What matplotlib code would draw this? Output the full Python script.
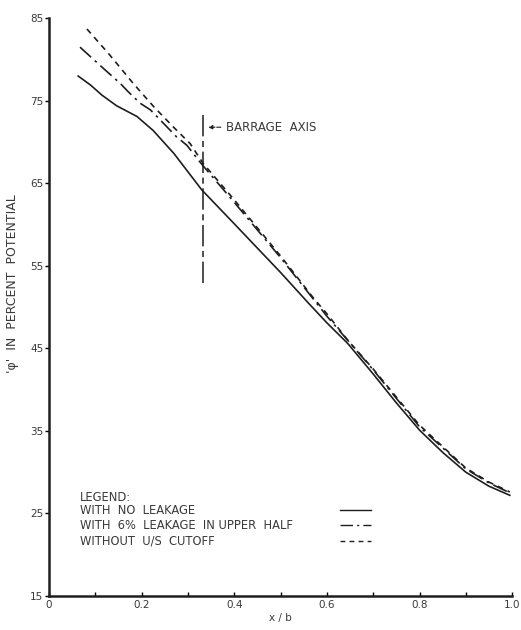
import numpy as np
import matplotlib
matplotlib.use("Agg")
import matplotlib.pyplot as plt
from matplotlib.lines import Line2D

x_no_leak = [0.063, 0.09, 0.114, 0.146, 0.19, 0.225, 0.27, 0.33, 0.40, 0.50, 0.56,
             0.60, 0.645, 0.70, 0.75, 0.80, 0.85, 0.90, 0.95, 0.995]
y_no_leak = [78.0, 76.9, 75.7, 74.4, 73.1, 71.4, 68.6, 64.2, 60.1, 54.2, 50.5,
             48.1, 45.6, 41.9, 38.4, 35.1, 32.4, 30.0, 28.3, 27.2]

x_leak6 = [0.067, 0.118, 0.154, 0.171, 0.197, 0.219, 0.233, 0.276, 0.298, 0.32,
           0.333, 0.40, 0.50, 0.60, 0.70, 0.80, 0.90, 0.95, 0.995]
y_leak6 = [81.5, 78.9, 77.1, 76.1, 74.7, 73.9, 73.1, 70.6, 69.6, 68.0,
           67.1, 62.7, 56.0, 48.9, 42.4, 35.5, 30.4, 28.7, 27.5]

x_no_cutoff = [0.082, 0.132, 0.182, 0.226, 0.269, 0.305, 0.333, 0.40, 0.50,
               0.571, 0.60, 0.645, 0.70, 0.80, 0.90, 0.95, 0.995]
y_no_cutoff = [83.7, 80.5, 77.1, 74.3, 71.8, 69.8, 67.4, 63.0, 56.2,
               51.1, 49.2, 46.0, 42.5, 35.7, 30.5, 28.8, 27.6]

series_labels = ["WITH  NO  LEAKAGE",
                 "WITH  6%  LEAKAGE  IN UPPER  HALF",
                 "WITHOUT  U/S  CUTOFF"]

barrage_x = 0.333
barrage_span = [52.9, 73.5]

x_ticks = [0, 0.2, 0.4, 0.6, 0.8, 1.0]
x_tick_labels = ["0", "0.2", "0.4", "0.6", "0.8", "1.0"]
y_ticks = [15, 25, 35, 45, 55, 65, 75, 85]

ink = "#1e1e1e"
text_ink = "#3a3a3a"

fig = plt.figure(figsize=(5.21, 6.30), dpi=100)
ax = fig.add_axes([0.094, 0.054, 0.889, 0.917])

styles = ["-", (0, (9, 3, 1.5, 3)), (0, (3.5, 3))]
lines = []
for xs, ys, ls in zip([x_no_leak, x_leak6, x_no_cutoff],
                      [y_no_leak, y_leak6, y_no_cutoff], styles):
    ln, = ax.plot(xs, ys, color=ink, lw=1.2, linestyle=ls)
    lines.append(ln)

# barrage axis marker
ax.plot([barrage_x, barrage_x], barrage_span, color=ink, lw=1.1,
        linestyle=(0, (14, 3, 4, 3)))
ax.annotate("BARRAGE  AXIS", xy=(barrage_x + 0.005, 71.8),
            xytext=(barrage_x + 0.05, 71.8), va="center", ha="left",
            fontsize=8.5, color=text_ink,
            arrowprops=dict(arrowstyle="-|>", color=ink, lw=0.8,
                            linestyle="--", mutation_scale=6))

ax.set_xlim(0, 1.0)
ax.set_ylim(15, 85)
ax.set_xticks(x_ticks)
ax.set_xticklabels(x_tick_labels)
ax.set_xticks(np.arange(0.1, 1.0, 0.2), minor=True)
ax.set_yticks(y_ticks)

for side in ["top", "right"]:
    ax.spines[side].set_visible(False)
for side in ["left", "bottom"]:
    ax.spines[side].set_linewidth(1.8)
    ax.spines[side].set_color(ink)

ax.tick_params(axis="y", direction="out", length=3, width=1, labelsize=7.5,
               labelcolor=text_ink, pad=1)
ax.tick_params(axis="x", which="both", direction="in", length=3, width=1,
               labelsize=7.5, labelcolor=text_ink, pad=3)

ax.set_xlabel("x / b", fontsize=7.5, color=text_ink, labelpad=2)
ax.set_ylabel("'\u03c6'  IN  PERCENT  POTENTIAL", fontsize=9,
              color=text_ink)
ax.yaxis.set_label_coords(-0.064, 0.54)

# legend block: texts on the left, line samples on the right
ax.text(0.067, 26.9, "LEGEND:", fontsize=8.3, color=text_ink, va="center")
row_y = [25.3, 23.5, 21.7]
for lab, yy in zip(series_labels, row_y):
    ax.text(0.067, yy, lab, fontsize=8.3, color=text_ink, va="center")

leg_handles = [Line2D([], [], color=ink, lw=1.0, linestyle=ls) for ls in styles]
leg = ax.legend(leg_handles, ["", "", ""], loc="center left",
                bbox_to_anchor=(0.628, (23.5 - 15) / 70), frameon=False,
                handlelength=3.2, handletextpad=0, labelspacing=0.55,
                fontsize=7, borderpad=0, borderaxespad=0)

fig.savefig("out.png", dpi=100)
